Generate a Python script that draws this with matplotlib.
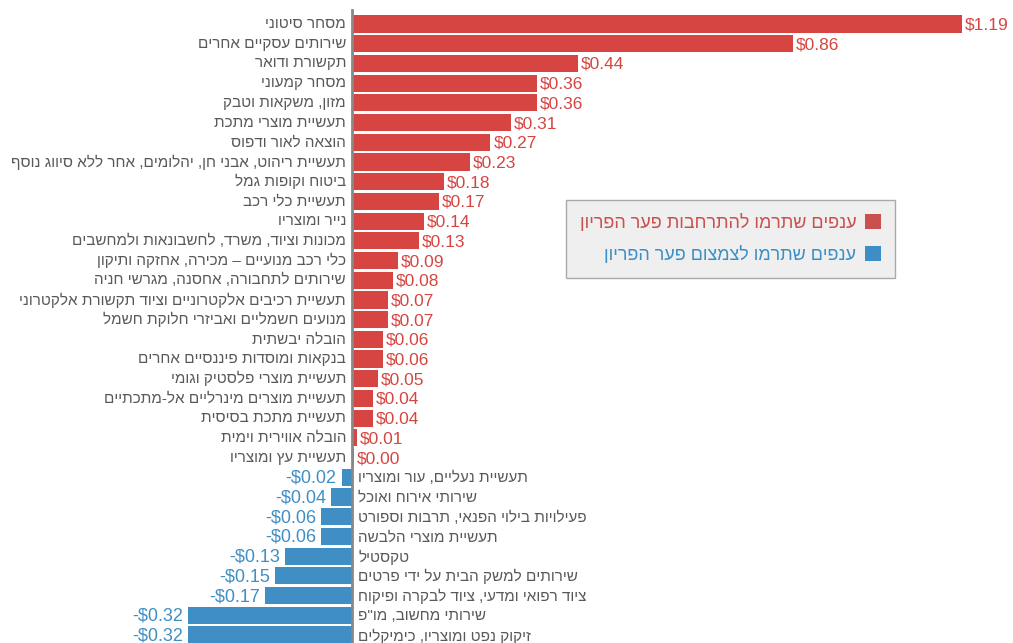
import matplotlib
matplotlib.use("Agg")
import matplotlib.pyplot as plt
from matplotlib.patches import Patch

plt.rcParams["font.family"] = ["Liberation Sans", "DejaVu Sans"]

# ענפים ותרומתם לפער הפריון (דולר)
categories = [
    "מסחר סיטוני",
    "שירותים עסקיים אחרים",
    "תקשורת ודואר",
    "מסחר קמעוני",
    "מזון, משקאות וטבק",
    "תעשיית מוצרי מתכת",
    "הוצאה לאור ודפוס",
    "תעשיית ריהוט, אבני חן, יהלומים, אחר ללא סיווג נוסף",
    "ביטוח וקופות גמל",
    "תעשיית כלי רכב",
    "נייר ומוצריו",
    "מכונות וציוד, משרד, לחשבונאות ולמחשבים",
    "כלי רכב מנועיים – מכירה, אחזקה ותיקון",
    "שירותים לתחבורה, אחסנה, מגרשי חניה",
    "תעשיית רכיבים אלקטרוניים וציוד תקשורת אלקטרוני",
    "מנועים חשמליים ואביזרי חלוקת חשמל",
    "הובלה יבשתית",
    "בנקאות ומוסדות פיננסיים אחרים",
    "תעשיית מוצרי פלסטיק וגומי",
    "תעשיית מוצרים מינרליים אל-מתכתיים",
    "תעשיית מתכת בסיסית",
    "הובלה אווירית וימית",
    "תעשיית עץ ומוצריו",
    "תעשיית נעליים, עור ומוצריו",
    "שירותי אירוח ואוכל",
    "פעילויות בילוי הפנאי, תרבות וספורט",
    "תעשיית מוצרי הלבשה",
    "טקסטיל",
    "שירותים למשק הבית על ידי פרטים",
    "ציוד רפואי ומדעי, ציוד לבקרה ופיקוח",
    "שירותי מחשוב, מו\"פ",
    "זיקוק נפט ומוצריו, כימיקלים",
]
values = [
    1.19, 0.86, 0.44, 0.36, 0.36, 0.31, 0.27, 0.23, 0.18, 0.17, 0.14,
    0.13, 0.09, 0.08, 0.07, 0.07, 0.06, 0.06, 0.05, 0.04, 0.04, 0.01,
    0.004, -0.02, -0.04, -0.06, -0.06, -0.13, -0.15, -0.17, -0.32, -0.32,
]

legend_labels = [
    "ענפים שתרמו להתרחבות פער הפריון",
    "ענפים שתרמו לצמצום פער הפריון",
]

RED = "#d64541"
BLUE = "#3f8fc5"
LABEL_GRAY = "#595959"


def heb(s):
    # matplotlib אינו תומך ב-RTL, הופכים את סדר התווים
    return s[::-1]


fig = plt.figure(figsize=(10.13, 6.43), dpi=100)
ax = fig.add_axes([0, 0, 1, 1])
ax.axis("off")

W, H = 1013, 643
x0_px, scale = 352, 512.6
row0_px, step = 24, 19.71
ax.set_xlim(-x0_px / scale, (W - x0_px) / scale)
ax.set_ylim((H - row0_px) / step, -row0_px / step)

ypos = list(range(len(values)))
colors = [RED if v >= 0 else BLUE for v in values]
ax.barh(ypos, values, height=0.87, color=colors, linewidth=0)

dx = 3 / scale
for y, v, name in zip(ypos, values, categories):
    if v >= 0:
        ax.text(-2 * dx, y, heb(name), ha="right", va="center",
                fontsize=11, color=LABEL_GRAY)
        ax.text(v + dx, y + 0.05, f"${v:.2f}", ha="left", va="center",
                fontsize=12.5, color=RED)
    else:
        ax.text(2 * dx, y + 0.05, heb(name), ha="left", va="center",
                fontsize=11, color=LABEL_GRAY)
        ax.text(v - 1.7 * dx, y + 0.05, f"-${abs(v):.2f}", ha="right", va="center",
                fontsize=13, color=BLUE)

ax.axvline(0, ymin=0, ymax=1 - 10 / H, color="#888888", linewidth=2)

handles = [Patch(facecolor="#c9504d"), Patch(facecolor="#3b8fc6")]
leg = ax.legend(handles, [heb(s) for s in legend_labels],
                loc="upper right", bbox_to_anchor=(895 / W, 1 - 200 / H),
                bbox_transform=fig.transFigure, borderaxespad=0,
                markerfirst=False, fontsize=13, labelcolor=["#c9504d", "#3b8fc6"],
                frameon=True, fancybox=False, facecolor="#efefef",
                edgecolor="#aaaaaa", framealpha=1,
                handlelength=0.9, handleheight=0.9, handletextpad=0.5,
                labelspacing=0.8, borderpad=0.75)
leg.get_frame().set_linewidth(1)

fig.savefig("out.png", dpi=100)
